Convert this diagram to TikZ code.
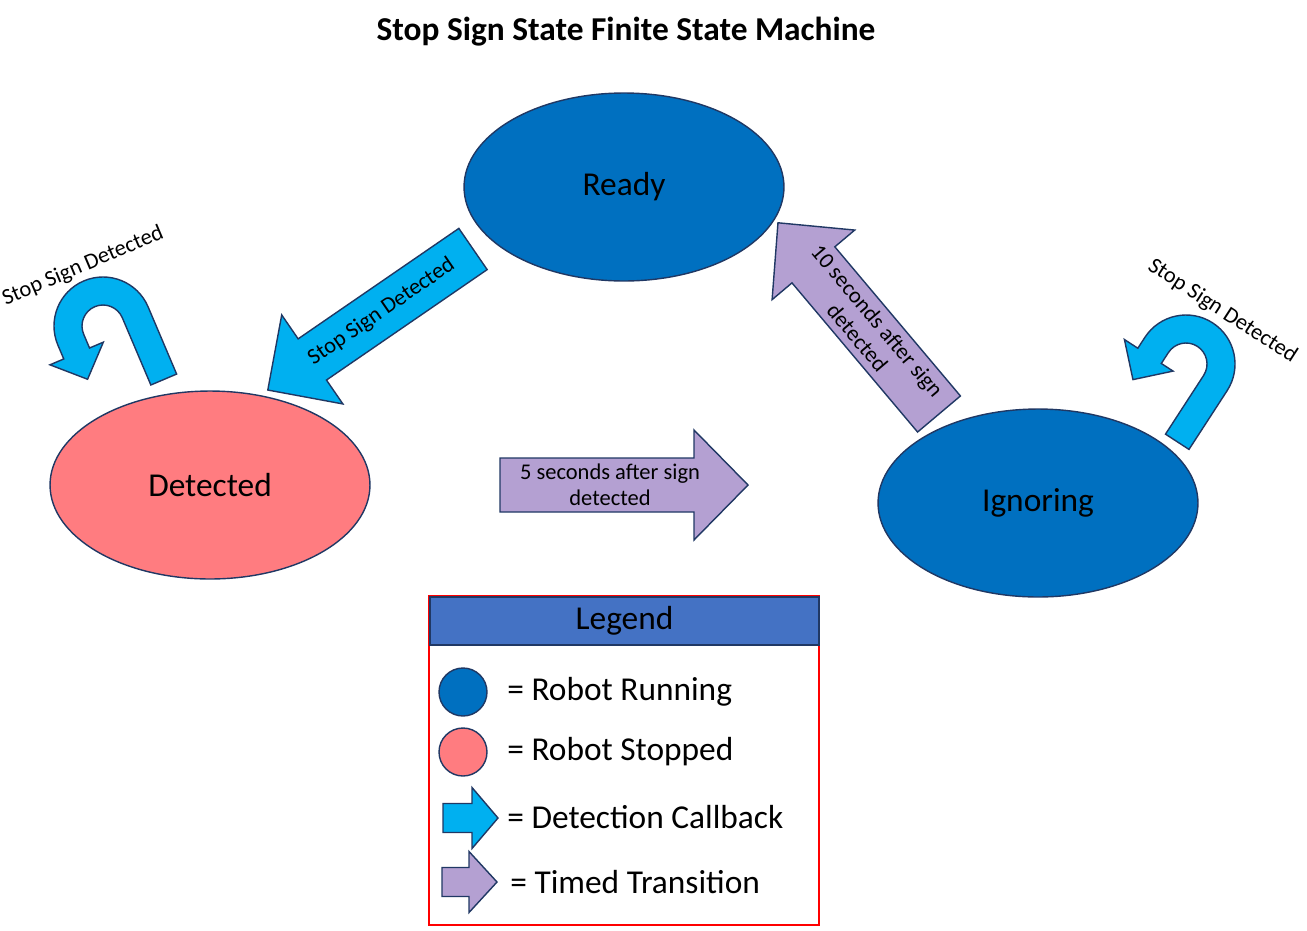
\documentclass[tikz,border=0pt]{standalone}
\usepackage{fontspec}
\setmainfont{Carlito}
\usetikzlibrary{shapes.geometric,positioning}
\definecolor{runblue}{HTML}{0070C0}
\definecolor{stoppink}{HTML}{FF7C80}
\definecolor{callblue}{HTML}{00B0F0}
\definecolor{timedpurple}{HTML}{B4A0D2}
\definecolor{outline}{HTML}{203864}
\definecolor{legendhead}{HTML}{4472C4}
\tikzset{
  state/.style={ellipse, draw=outline, line width=0.8pt, minimum width=6.4cm, minimum height=3.76cm, inner sep=0pt, font=\fontsize{19}{22}\selectfont},
  running/.style={state, fill=runblue},
  stopped/.style={state, fill=stoppink},
  callback/.style={draw=outline, line width=0.8pt, fill=callblue},
  timed/.style={draw=outline, line width=0.8pt, fill=timedpurple},
  arrowtext/.style={font=\fontsize{12.8}{14.8}\selectfont, align=center, transform shape},
  legendtext/.style={anchor=west, inner sep=0pt, font=\fontsize{19}{22}\selectfont},
  legenddot/.style={circle, draw=outline, line width=0.8pt, minimum size=0.96cm, inner sep=0pt}
}
\begin{document}
\begin{tikzpicture}[x=0.02cm, y=-0.02cm]
\useasboundingbox (0,0) rectangle (1307,930);
\node[font=\bfseries\fontsize{19}{22}\selectfont] (title) at (626,32) {Stop Sign State Finite State Machine};

% states
\node[running] (ready) at (624,187) {Ready};
\node[stopped] (detected) at (210,485) {Detected};
\node[running] (ignoring) at (1038,503) {Ignoring};

% ready -> detected
\begin{scope}[shift={(473,249)}, rotate=214.5]
  \draw[callback] (0,-25) -- (195,-25) -- (195,-54) -- (249,0) -- (195,54) -- (195,25) -- (0,25) -- cycle;
  \node[arrowtext, rotate=180] (rd) at (111,0) {Stop Sign Detected};
\end{scope}

% detected -> ignoring
\begin{scope}[shift={(500,485)}]
  \draw[timed] (0,-27) -- (194,-27) -- (194,-55) -- (248,0) -- (194,55) -- (194,27) -- (0,27) -- cycle;
  \node[arrowtext] (di) at (110,0) {5 seconds after sign\\detected};
\end{scope}

% ignoring -> ready
\begin{scope}[shift={(939,414)}, rotate=130.1]
  \draw[timed] (0,-28) -- (195,-28) -- (195,-54) -- (250,0) -- (195,54) -- (195,28) -- (0,28) -- cycle;
  \node[arrowtext, rotate=180] (ir) at (111,0) {10 seconds after sign\\detected};
\end{scope}

% self loops
\begin{scope}[shift={(103,326)}, rotate=23, y=0.02cm]
  \draw[callback] (49,-73) -- (49,0) arc[start angle=0, end angle=180, radius=49] -- (-49,-15) -- (-64,-15) -- (-35,-43) -- (-6,-15) -- (-21,-15) -- (-21,0) arc[start angle=180, end angle=0, radius=21] -- (21,-73) -- cycle;
  \node[arrowtext] (dd) at (5,63) {Stop Sign Detected};
\end{scope}
\begin{scope}[shift={(1186,364)}, rotate=-33, y=0.02cm]
  \draw[callback] (49,-70) -- (49,0) arc[start angle=0, end angle=180, radius=49] -- (-49,-13) -- (-65,-13) -- (-36,-42) -- (-7,-13) -- (-21,-13) -- (-21,0) arc[start angle=180, end angle=0, radius=21] -- (21,-70) -- cycle;
  \node[arrowtext] (ii) at (2,64) {Stop Sign Detected};
\end{scope}

% legend
\node[draw=red, line width=0.9pt, minimum width=7.8cm, minimum height=6.58cm] (legend) at (624,760.5) {};
\node[draw=outline, fill=legendhead, line width=0.8pt, minimum width=7.78cm, minimum height=0.96cm, font=\fontsize{19}{22}\selectfont] (legendtitle) at (624.5,621) {Legend};
\node[legenddot, fill=runblue] (keyrun) at (463,692) {};
\node[legenddot, fill=stoppink] (keystop) at (463,752) {};
\begin{scope}[shift={(443,818)}]
  \draw[callback] (0,-14.5) -- (29,-14.5) -- (29,-30.5) -- (55,0) -- (29,30.5) -- (29,14.5) -- (0,14.5) -- cycle;
\end{scope}
\begin{scope}[shift={(442,882)}]
  \draw[timed] (0,-14.5) -- (27,-14.5) -- (27,-30.5) -- (55,0) -- (27,30.5) -- (27,14.5) -- (0,14.5) -- cycle;
\end{scope}
\node[legendtext] (keyruntext) at (507,692) {= Robot Running};
\node[legendtext] (keystoptext) at (507,752) {= Robot Stopped};
\node[legendtext] (keycalltext) at (507,817) {= Detection Callback};
\node[legendtext] (keytimedtext) at (510,882) {= Timed Transition};
\end{tikzpicture}
\end{document}
